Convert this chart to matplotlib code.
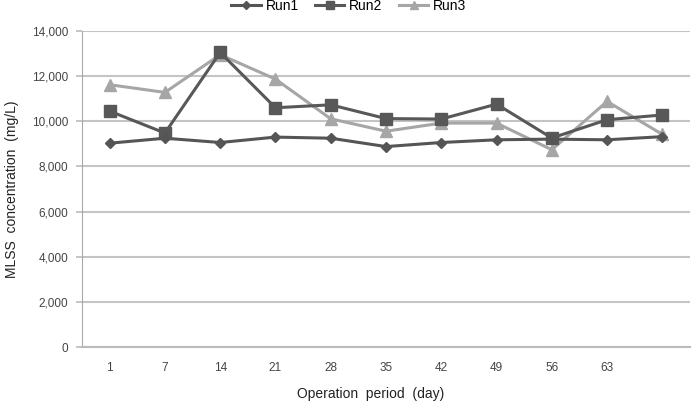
import numpy as np
import matplotlib.pyplot as plt

plt.rcParams['font.family'] = ['Liberation Sans', 'DejaVu Sans']

days = ['1', '7', '14', '21', '28', '35', '42', '49', '56', '63', '']
run1 = [9030, 9250, 9060, 9300, 9250, 8880, 9060, 9180, 9210, 9180, 9320]
run2 = [10450, 9480, 13050, 10600, 10730, 10120, 10100, 10760, 9260, 10070, 10280]
run3 = [11620, 11280, 12950, 11870, 10110, 9560, 9920, 9920, 8740, 10880, 9420]
yticks = np.arange(0, 14001, 2000)

fig = plt.figure(figsize=(6.98, 4.08), dpi=100)
ax = fig.add_axes([0.1175, 0.1495, 0.871, 0.7745])

x = np.arange(len(days))
ax.plot(x, run1, color='#555555', lw=2.2, marker='D', ms=5.5, label='Run1', zorder=4)
ax.plot(x, run2, color='#585858', lw=2.2, marker='s', ms=8, label='Run2', zorder=3)
ax.plot(x, run3, color='#a6a6a6', lw=2.2, marker='^', ms=8, label='Run3', zorder=2)

ax.set_xlim(-0.5, len(days) - 0.5)
ax.set_ylim(0, 14000)
ax.set_yticks(yticks)
ax.set_yticklabels([f'{v:,}' for v in yticks], fontsize=8.5, color='#444444')
ax.set_xticks(x)
ax.set_xticklabels(days, fontsize=8.5, color='#444444')
ax.tick_params(axis='x', length=0, pad=11)
ax.tick_params(axis='y', length=4, width=1.2, color='#bbbbbb', pad=6)
ax.yaxis.grid(True, color='#c4c4c4', lw=1.5)
ax.set_axisbelow(True)
for s in ['top', 'right']:
    ax.spines[s].set_visible(False)
ax.spines['left'].set_color('#aaaaaa')
ax.spines['bottom'].set_color('#bbbbbb')
ax.spines['bottom'].set_linewidth(1.5)

ax.set_ylabel('MLSS  concentration  (mg/L)', fontsize=10, color='#222222', labelpad=9)
ax.set_xlabel('Operation  period  (day)', fontsize=10, color='#222222')
ax.xaxis.set_label_coords(0.474, -0.125)

fig.legend(loc='center', bbox_to_anchor=(0.5, 1 - 6 / 408), ncol=3, frameon=False,
           fontsize=10, handlelength=2.1, columnspacing=1.2, handletextpad=0.35,
           markerscale=0.8)

fig.savefig('out.png', dpi=100)
